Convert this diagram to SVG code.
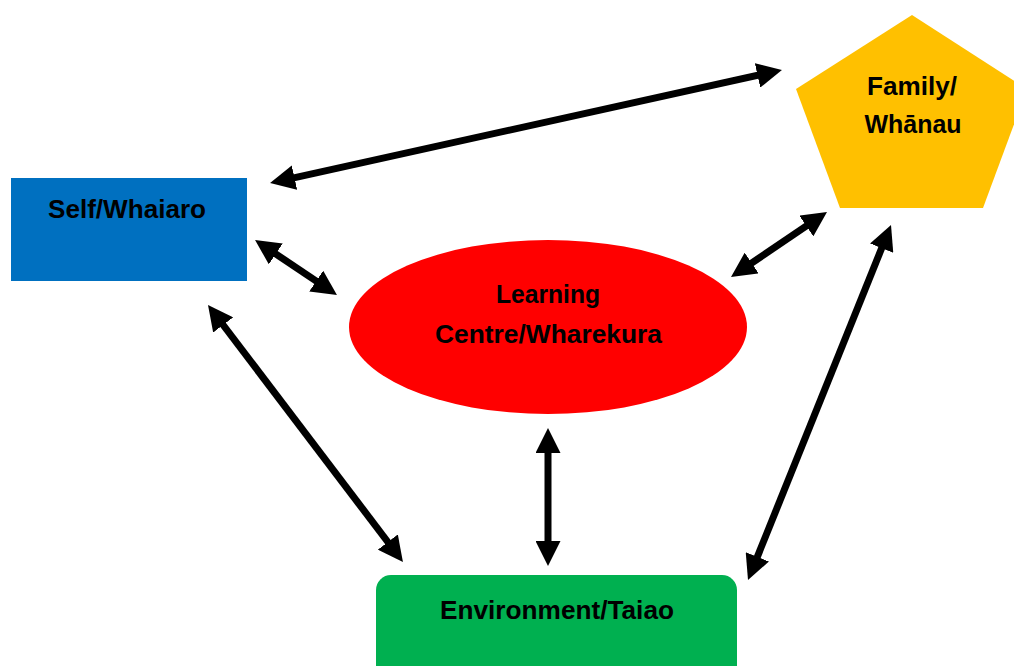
<svg xmlns="http://www.w3.org/2000/svg" width="1014" height="666" viewBox="0 0 1014 666">
  <style>
    .lbl { font-family: "Liberation Sans", Arial, sans-serif; font-weight: bold; font-size: 26.5px; fill: #000; text-anchor: middle; }
    .conn { stroke: #000; stroke-width: 7; fill: none; marker-start: url(#ah); marker-end: url(#ah); }
  </style>
  <defs>
    <marker id="ah" viewBox="0 0 25 25" markerUnits="userSpaceOnUse" markerWidth="25" markerHeight="25" refX="10" refY="12.5" orient="auto-start-reverse">
      <path d="M0,0 L25,12.5 L0,25 Z" fill="#000"/>
    </marker>
  </defs>
  <rect width="1014" height="666" fill="#fff"/>
  <g id="self">
    <rect x="11" y="178" width="236" height="103" fill="#0070C0"/>
    <text class="lbl" x="127" y="218" textLength="158" lengthAdjust="spacingAndGlyphs">Self/Whaiaro</text>
  </g>
  <g id="family">
    <polygon points="912,15 1027,89 983,208 840,208 796,89" fill="#FFC000"/>
    <text class="lbl" x="912" y="95" textLength="90" lengthAdjust="spacingAndGlyphs">Family/</text>
    <text class="lbl" x="913" y="133" textLength="97" lengthAdjust="spacingAndGlyphs">Whānau</text>
  </g>
  <g id="learning">
    <ellipse cx="548" cy="327" rx="199" ry="87" fill="#FF0000"/>
    <text class="lbl" x="548" y="303" textLength="104" lengthAdjust="spacingAndGlyphs">Learning</text>
    <text class="lbl" x="548.5" y="343" textLength="227" lengthAdjust="spacingAndGlyphs">Centre/Wharekura</text>
  </g>
  <g id="environment">
    <rect x="376" y="575" width="361" height="110" rx="15" ry="15" fill="#00B050"/>
    <text class="lbl" x="557" y="619" textLength="234" lengthAdjust="spacingAndGlyphs">Environment/Taiao</text>
  </g>
  <g id="connectors">
    <line class="conn" x1="284.7" y1="179.8" x2="767.3" y2="73.2"/>
    <line class="conn" x1="267.5" y1="248.4" x2="324.5" y2="286.6"/>
    <line class="conn" x1="814.6" y1="220.4" x2="743.4" y2="268.6"/>
    <line class="conn" x1="217.1" y1="317" x2="393.9" y2="550"/>
    <line class="conn" x1="548" y1="443" x2="548" y2="551"/>
    <line class="conn" x1="885.4" y1="238.9" x2="753.6" y2="566.1"/>
  </g>
</svg>
